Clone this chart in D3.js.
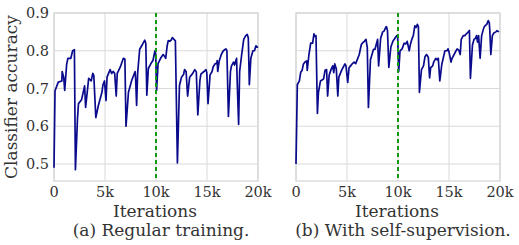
<!DOCTYPE html>
<html>
<head>
<meta charset="utf-8">
<script src="https://cdn.jsdelivr.net/npm/d3@7"></script>
<style>
  body { margin: 0; background: #fff; }
  text { font-family: "DejaVu Serif", serif; fill: #333; }
</style>
</head>
<body>
<div class="chart"></div>
<script>
// data (iterations in k, accuracy)
var iterRegular = [0, 0.1, 0.42, 0.77, 0.8, 0.95, 1.05, 1.24, 1.36, 1.65, 1.83, 2.0, 2.1, 2.3, 2.4, 2.7, 3.0, 3.1, 3.4, 3.65, 3.8, 3.9, 4.1, 4.35, 4.7, 4.8, 4.95, 5.1, 5.2, 5.5, 5.65, 5.8, 5.95, 6.1, 6.2, 6.5, 6.8, 6.95, 7.06, 7.3, 7.6, 7.95, 8.0, 8.1, 8.2, 8.4, 8.7, 8.9, 9.0, 9.1, 9.25, 9.5, 9.7, 9.9, 9.97, 10.06, 10.2, 10.45, 10.7, 10.85, 10.95, 11.1, 11.2, 11.35, 11.5, 11.6, 11.9, 12.1, 12.3, 12.5, 12.7, 12.8, 12.95, 13.1, 13.3, 13.6, 13.8, 13.95, 14.1, 14.3, 14.4, 14.7, 14.9, 14.98, 15.1, 15.3, 15.5, 15.6, 15.8, 15.95, 16.0, 16.05, 16.2, 16.4, 16.6, 16.85, 16.95, 17.1, 17.3, 17.4, 17.6, 17.7, 17.9, 17.97, 18.1, 18.2, 18.4, 18.6, 18.8, 18.95, 19.05, 19.15, 19.3, 19.5, 19.65, 19.8, 20.0];
var accRegular = [0.49, 0.694, 0.717, 0.72, 0.745, 0.73, 0.695, 0.764, 0.78, 0.78, 0.8, 0.803, 0.485, 0.619, 0.66, 0.67, 0.707, 0.65, 0.727, 0.72, 0.74, 0.735, 0.623, 0.655, 0.69, 0.71, 0.72, 0.668, 0.73, 0.75, 0.74, 0.745, 0.74, 0.68, 0.74, 0.757, 0.78, 0.778, 0.6, 0.69, 0.72, 0.745, 0.728, 0.655, 0.74, 0.804, 0.818, 0.828, 0.82, 0.682, 0.753, 0.766, 0.774, 0.8, 0.79, 0.695, 0.766, 0.78, 0.79, 0.785, 0.78, 0.814, 0.827, 0.825, 0.829, 0.835, 0.826, 0.503, 0.708, 0.73, 0.737, 0.75, 0.745, 0.68, 0.73, 0.74, 0.75, 0.744, 0.63, 0.72, 0.738, 0.745, 0.75, 0.742, 0.66, 0.736, 0.745, 0.757, 0.766, 0.766, 0.774, 0.745, 0.773, 0.79, 0.8, 0.805, 0.8, 0.626, 0.745, 0.76, 0.77, 0.762, 0.78, 0.71, 0.605, 0.745, 0.79, 0.83, 0.84, 0.843, 0.834, 0.71, 0.78, 0.8, 0.8, 0.813, 0.808];

var iterSelf = [0, 0.13, 0.33, 0.46, 0.6, 0.72, 0.88, 1.05, 1.1, 1.27, 1.44, 1.63, 1.76, 1.86, 1.96, 2.1, 2.2, 2.4, 2.7, 2.85, 3.0, 3.1, 3.25, 3.43, 3.6, 3.7, 3.8, 3.95, 4.1, 4.2, 4.5, 4.6, 4.8, 4.9, 5.07, 5.2, 5.35, 5.5, 5.7, 5.85, 6.0, 6.2, 6.4, 6.5, 6.7, 6.86, 6.99, 7.1, 7.3, 7.6, 7.75, 7.9, 8.0, 8.1, 8.3, 8.5, 8.63, 8.8, 8.87, 8.97, 9.1, 9.3, 9.5, 9.7, 9.87, 9.97, 10.07, 10.2, 10.4, 10.6, 10.75, 10.9, 11.1, 11.2, 11.35, 11.5, 11.65, 11.78, 11.9, 12.0, 12.1, 12.3, 12.5, 12.65, 12.8, 12.97, 13.1, 13.2, 13.4, 13.5, 13.7, 13.85, 13.95, 14.1, 14.3, 14.4, 14.6, 14.8, 14.9, 15.0, 15.2, 15.3, 15.5, 15.65, 15.8, 15.97, 16.1, 16.2, 16.4, 16.55, 16.7, 16.9, 17.0, 17.1, 17.3, 17.45, 17.6, 17.7, 17.8, 17.9, 18.05, 18.2, 18.4, 18.5, 18.7, 18.85, 18.95, 19.0, 19.1, 19.25, 19.4, 19.6, 19.7, 19.9];
var accSelf = [0.5, 0.71, 0.72, 0.743, 0.748, 0.764, 0.77, 0.773, 0.748, 0.79, 0.82, 0.82, 0.845, 0.838, 0.84, 0.634, 0.69, 0.72, 0.725, 0.748, 0.75, 0.68, 0.735, 0.75, 0.76, 0.742, 0.765, 0.752, 0.68, 0.73, 0.75, 0.755, 0.765, 0.76, 0.716, 0.755, 0.76, 0.765, 0.77, 0.766, 0.776, 0.79, 0.816, 0.82, 0.825, 0.83, 0.808, 0.65, 0.776, 0.804, 0.804, 0.82, 0.83, 0.76, 0.833, 0.85, 0.852, 0.862, 0.864, 0.853, 0.756, 0.81, 0.825, 0.833, 0.84, 0.836, 0.745, 0.8, 0.805, 0.82, 0.818, 0.825, 0.8, 0.815, 0.83, 0.84, 0.866, 0.862, 0.87, 0.864, 0.69, 0.75, 0.76, 0.785, 0.79, 0.783, 0.728, 0.755, 0.76, 0.77, 0.78, 0.776, 0.78, 0.72, 0.765, 0.776, 0.8, 0.8, 0.805, 0.797, 0.77, 0.78, 0.79, 0.798, 0.805, 0.801, 0.79, 0.83, 0.84, 0.84, 0.845, 0.85, 0.854, 0.727, 0.815, 0.83, 0.833, 0.84, 0.823, 0.84, 0.78, 0.84, 0.86, 0.865, 0.87, 0.88, 0.874, 0.855, 0.79, 0.84, 0.847, 0.85, 0.853, 0.85];

var xTicks = [0, 5, 10, 15, 20];
var xTickLabels = ["0", "5k", "10k", "15k", "20k"];
var yTicks = [0.5, 0.6, 0.7, 0.8, 0.9];
var switchIter = 10;

var svgWidth = 519, svgHeight = 245;
var plotTop = 13, plotBottom = 181;

var svg = d3.select(".chart").append("svg")
  .attr("width", svgWidth)
  .attr("height", svgHeight);

var yScale = d3.scaleLinear().domain([0.455, 0.9]).range([plotBottom, plotTop]);

function drawPanel(left, right, iters, accs, caption, showY) {
  var xScale = d3.scaleLinear().domain([0, 20]).range([left, right]);
  var g = svg.append("g");

  // grid
  g.selectAll("line.vgrid").data(xTicks).enter().append("line")
    .attr("x1", d => xScale(d)).attr("x2", d => xScale(d))
    .attr("y1", plotTop).attr("y2", plotBottom)
    .attr("stroke", "#dadada").attr("stroke-width", 1);
  g.selectAll("line.hgrid").data(yTicks).enter().append("line")
    .attr("x1", left).attr("x2", right)
    .attr("y1", d => yScale(d)).attr("y2", d => yScale(d))
    .attr("stroke", "#dadada").attr("stroke-width", 1);

  // frame
  g.append("rect")
    .attr("x", left).attr("y", plotTop)
    .attr("width", right - left).attr("height", plotBottom - plotTop)
    .attr("fill", "none").attr("stroke", "#d4d4d4").attr("stroke-width", 1.2);

  // accuracy line
  var line = d3.line()
    .x((d, i) => xScale(iters[i]))
    .y(d => yScale(d));
  g.append("path")
    .datum(accs)
    .attr("d", line)
    .attr("fill", "none")
    .attr("stroke", "#0a0a8c")
    .attr("stroke-width", 1.7)
    .attr("stroke-linejoin", "round");

  // switch marker
  g.append("line")
    .attr("x1", xScale(switchIter)).attr("x2", xScale(switchIter))
    .attr("y1", plotTop).attr("y2", plotBottom)
    .attr("stroke", "#119911").attr("stroke-width", 2)
    .attr("stroke-dasharray", "4,3");

  // x tick labels
  g.selectAll("text.xt").data(xTicks).enter().append("text")
    .attr("x", d => xScale(d)).attr("y", 197)
    .attr("text-anchor", "middle")
    .style("font-size", "14.5px")
    .text((d, i) => xTickLabels[i]);

  if (showY) {
    g.selectAll("text.yt").data(yTicks).enter().append("text")
      .attr("x", left - 5).attr("y", d => yScale(d) + 5)
      .attr("text-anchor", "end")
      .style("font-size", "14.5px")
      .text(d => d3.format(".1f")(d));
  }

  g.append("text")
    .attr("x", (left + right) / 2 - 1).attr("y", 217)
    .attr("text-anchor", "middle")
    .style("font-size", "17px")
    .text("Iterations");

  g.append("text")
    .attr("x", (left + right) / 2 + 5).attr("y", 236)
    .attr("text-anchor", "middle")
    .style("font-size", "17px")
    .text(caption);
}

drawPanel(54, 258, iterRegular, accRegular, "(a) Regular training.", true);
drawPanel(296, 500, iterSelf, accSelf, "(b) With self-supervision.", false);

// y axis label
svg.append("text")
  .attr("transform", "translate(17," + ((plotTop + plotBottom) / 2) + ") rotate(-90)")
  .attr("text-anchor", "middle")
  .style("font-size", "17px")
  .text("Classifier accuracy");
</script>
</body>
</html>
